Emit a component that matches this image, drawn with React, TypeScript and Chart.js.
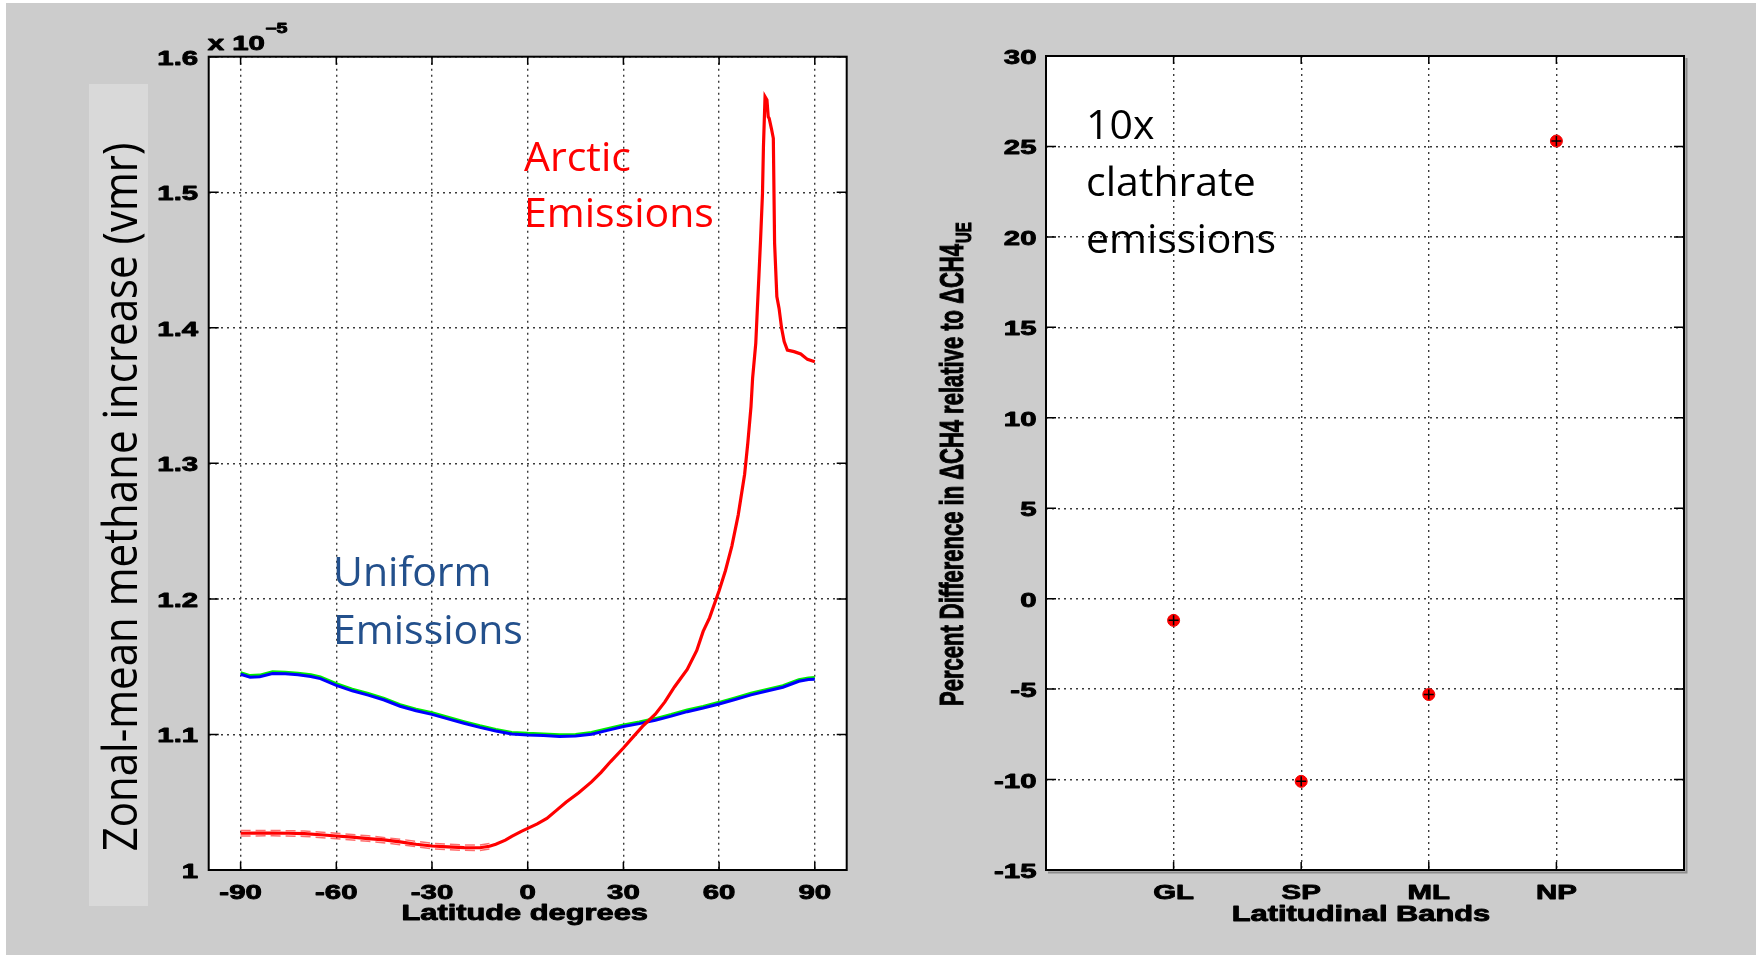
import React, { useEffect, useRef } from "react";
import { Chart, registerables } from "chart.js";

Chart.register(...registerables);

// ---------- Left panel: zonal-mean methane increase (units of 1e-5 vmr) ----------
const latitudeTicks = [-90, -60, -30, 0, 30, 60, 90];
const latitudeTickLabels = ["-90", "-60", "-30", "0", "30", "60", "90"];
const methaneTicks = [1.0, 1.1, 1.2, 1.3, 1.4, 1.5, 1.6];
const methaneTickLabels = ["1", "1.1", "1.2", "1.3", "1.4", "1.5", "1.6"];

const uniformLat = [-90, -87, -84, -80, -76, -72, -68, -65, -60, -55, -50, -45, -40, -35, -30, -25, -20, -15, -10, -5, 0, 5, 10, 15, 20, 25, 30, 35, 40, 45, 50, 55, 60, 65, 70, 75, 80, 85, 88, 90];
const uniformBlue = [1.1444, 1.1422, 1.1426, 1.145, 1.1447, 1.144, 1.1428, 1.1412, 1.1362, 1.1322, 1.129, 1.1254, 1.1208, 1.1175, 1.1148, 1.1115, 1.1083, 1.1052, 1.1025, 1.1003, 1.0996, 1.0992, 1.0985, 1.0988, 1.1002, 1.103, 1.1058, 1.108, 1.1105, 1.1135, 1.1168, 1.1195, 1.1225, 1.1258, 1.1292, 1.132, 1.1348, 1.1392, 1.1405, 1.1408];
const uniformGreen = [1.1456, 1.1434, 1.1438, 1.1463, 1.1459, 1.1452, 1.144, 1.1424, 1.1374, 1.1334, 1.1302, 1.1266, 1.122, 1.1187, 1.116, 1.1127, 1.1095, 1.1064, 1.1037, 1.1015, 1.1008, 1.1004, 1.0997, 1.1, 1.1014, 1.1042, 1.107, 1.1092, 1.1117, 1.1147, 1.118, 1.1207, 1.1237, 1.127, 1.1304, 1.1332, 1.136, 1.1404, 1.1417, 1.142];

const arcticLat = [-90, -85, -80, -75, -70, -65, -60, -55, -50, -45, -40, -35, -30, -25, -20, -15, -12, -10, -7, -5, -2, 0, 3, 6, 9, 12, 16, 20, 23, 26, 30, 33, 36, 40, 43, 46, 50, 53, 55, 57, 60, 62, 64, 66, 68, 69, 70, 70.5, 71.5, 72, 72.5, 73, 73.6, 73.9, 74.4, 75.0, 75.4, 75.7, 76.4, 77.0, 77.4, 78.1, 78.8, 79.6, 80.4, 81.4, 83.5, 85.6, 87.7, 90];
const arcticValues = [1.0271, 1.0272, 1.0272, 1.0271, 1.0268, 1.026, 1.0251, 1.0242, 1.0232, 1.0222, 1.0207, 1.019, 1.0177, 1.017, 1.0165, 1.0164, 1.0175, 1.019, 1.022, 1.0248, 1.0285, 1.0307, 1.034, 1.038, 1.044, 1.05, 1.057, 1.065, 1.072, 1.08, 1.09, 1.098, 1.106, 1.115, 1.124, 1.135, 1.148, 1.162, 1.176, 1.186, 1.206, 1.221, 1.239, 1.262, 1.292, 1.315, 1.3418, 1.3627, 1.3886, 1.4144, 1.439, 1.465, 1.499, 1.5336, 1.5705, 1.568, 1.5557, 1.5545, 1.547, 1.5398, 1.4623, 1.423, 1.4143, 1.3996, 1.3898, 1.3836, 1.3824, 1.3807, 1.3767, 1.375];

const arcticBandLat = [-90, -80, -70, -60, -50, -40, -30, -25, -20, -15, -12];
const arcticBandUpper = [1.0291, 1.0292, 1.0288, 1.0271, 1.0252, 1.0227, 1.0197, 1.019, 1.0185, 1.0184, 1.0195];
const arcticBandLower = [1.0251, 1.0252, 1.0248, 1.0231, 1.0212, 1.0187, 1.0157, 1.015, 1.0145, 1.0144, 1.0155];

// ---------- Right panel: percent difference per latitudinal band ----------
const bandLabels = ["GL", "SP", "ML", "NP"];
const bandPositions = [1, 2, 3, 4];
const percentDifference = [-1.2, -10.1, -5.3, 25.3];
const percentTicks = [-15, -10, -5, 0, 5, 10, 15, 20, 25, 30];

const SX = 1.4;
const BOLD_FAMILY = '"Liberation Sans", Arial, Helvetica, sans-serif';
const TEXT_FAMILY = '"Open Sans", "Noto Sans", sans-serif';

function stretchedText(
  ctx: CanvasRenderingContext2D,
  text: string,
  x: number,
  y: number,
  size: number,
  align: CanvasTextAlign,
  sx = SX,
  color = "#000",
) {
  ctx.save();
  ctx.font = `bold ${size}px ${BOLD_FAMILY}`;
  ctx.fillStyle = color;
  ctx.strokeStyle = color;
  ctx.lineWidth = 0.9;
  ctx.lineJoin = "round";
  ctx.textAlign = align;
  ctx.textBaseline = "alphabetic";
  ctx.translate(x, y);
  ctx.scale(sx, 1);
  ctx.fillText(text, 0, 0);
  ctx.strokeText(text, 0, 0);
  ctx.restore();
}

function plainText(ctx: CanvasRenderingContext2D, text: string, x: number, y: number, size: number, color: string) {
  ctx.save();
  ctx.font = `${size}px ${TEXT_FAMILY}`;
  ctx.fillStyle = color;
  ctx.textAlign = "left";
  ctx.textBaseline = "alphabetic";
  ctx.fillText(text, x, y);
  ctx.restore();
}

function drawFrame(chart: any, xTicks: number[], yTicks: number[], shadow: boolean) {
  const { ctx, chartArea: a, scales } = chart;
  ctx.save();
  ctx.strokeStyle = "#000";
  ctx.lineWidth = 1.5;
  ctx.beginPath();
  xTicks.forEach((v) => {
    const px = scales.x.getPixelForValue(v);
    ctx.moveTo(px, a.bottom);
    ctx.lineTo(px, a.bottom - 8);
    ctx.moveTo(px, a.top);
    ctx.lineTo(px, a.top + 8);
  });
  yTicks.forEach((v) => {
    const py = scales.y.getPixelForValue(v);
    ctx.moveTo(a.left, py);
    ctx.lineTo(a.left + 10, py);
    ctx.moveTo(a.right, py);
    ctx.lineTo(a.right - 10, py);
  });
  ctx.stroke();
  if (shadow) {
    ctx.strokeStyle = "#8c8c8c";
    ctx.lineWidth = 2;
    ctx.beginPath();
    ctx.moveTo(a.right + 2.5, a.top + 2);
    ctx.lineTo(a.right + 2.5, a.bottom + 2.5);
    ctx.lineTo(a.left + 2, a.bottom + 2.5);
    ctx.stroke();
  }
  ctx.strokeStyle = "#000";
  ctx.lineWidth = 2;
  ctx.strokeRect(a.left, a.top, a.right - a.left, a.bottom - a.top);
  ctx.restore();
}

const whiteArea = {
  id: "whiteArea",
  beforeDraw(chart: any) {
    const { ctx, chartArea: a } = chart;
    ctx.save();
    ctx.fillStyle = "#ffffff";
    ctx.fillRect(a.left, a.top, a.right - a.left, a.bottom - a.top);
    ctx.restore();
  },
};

const leftDecor = {
  id: "leftDecor",
  beforeDraw(chart: any) {
    const { ctx } = chart;
    ctx.save();
    ctx.fillStyle = "#d9d9d9";
    ctx.fillRect(89, 84, 59, 822);
    ctx.restore();
  },
  afterDraw(chart: any) {
    const { ctx, chartArea: a, scales } = chart;
    drawFrame(chart, latitudeTicks, methaneTicks, false);
    latitudeTicks.forEach((v, i) => {
      stretchedText(ctx, latitudeTickLabels[i], scales.x.getPixelForValue(v), 899, 21, "center");
    });
    methaneTicks.forEach((v, i) => {
      stretchedText(ctx, methaneTickLabels[i], a.left - 10.5, scales.y.getPixelForValue(v) + 8, 21, "right");
    });
    stretchedText(ctx, "Latitude degrees", (a.left + a.right) / 2 - 3, 920, 22, "center");
    stretchedText(ctx, "x 10", a.left - 1, 50, 21, "left");
    stretchedText(ctx, "\u20135", a.left + 57, 33, 14, "left");

    // rotated y title
    ctx.save();
    ctx.font = `42px ${TEXT_FAMILY}`;
    ctx.fillStyle = "#000";
    ctx.textAlign = "center";
    ctx.textBaseline = "alphabetic";
    ctx.translate(137, 497);
    ctx.rotate(-Math.PI / 2);
    ctx.scale(1, 1.12);
    ctx.fillText("Zonal-mean methane increase (vmr)", 0, 0);
    ctx.restore();

    plainText(ctx, "Arctic", 524, 171, 41, "#ff0000");
    plainText(ctx, "Emissions", 524, 227, 41, "#ff0000");
    plainText(ctx, "Uniform", 333, 586, 41, "#23508c");
    plainText(ctx, "Emissions", 333, 644, 41, "#23508c");
  },
};

const rightDecor = {
  id: "rightDecor",
  afterDraw(chart: any) {
    const { ctx, chartArea: a, scales } = chart;
    drawFrame(chart, bandPositions, percentTicks, true);
    bandPositions.forEach((v, i) => {
      stretchedText(ctx, bandLabels[i], scales.x.getPixelForValue(v), 899, 21, "center");
    });
    percentTicks.forEach((v) => {
      stretchedText(ctx, String(v), a.left - 9.5, scales.y.getPixelForValue(v) + 8, 21, "right");
    });
    stretchedText(ctx, "Latitudinal Bands", (a.left + a.right) / 2 - 4, 921, 22, "center");

    // rotated y title with subscript
    ctx.save();
    ctx.fillStyle = "#000";
    ctx.strokeStyle = "#000";
    ctx.lineWidth = 0.7;
    ctx.textAlign = "left";
    ctx.textBaseline = "alphabetic";
    ctx.translate(83, 706);
    ctx.rotate(-Math.PI / 2);
    ctx.scale(1, 1.5);
    ctx.font = `bold 22px ${BOLD_FAMILY}`;
    const main = "Percent Difference in \u0394CH4 relative to \u0394CH4";
    ctx.fillText(main, 0, 0);
    ctx.strokeText(main, 0, 0);
    const w = ctx.measureText(main).width;
    ctx.font = `bold 15px ${BOLD_FAMILY}`;
    ctx.fillText("UE", w + 1, 5);
    ctx.strokeText("UE", w + 1, 5);
    ctx.restore();

    plainText(ctx, "10x", 206, 139, 41, "#000");
    plainText(ctx, "clathrate", 206, 196, 41, "#000");
    plainText(ctx, "emissions", 206, 253, 41, "#000");
  },
};

const gridStyle = { color: "#3a3a3a", lineWidth: 1.4, drawTicks: false };
const borderStyle = { display: false, dash: [2, 4] };

export default function App() {
  const leftRef = useRef<HTMLCanvasElement>(null);
  const rightRef = useRef<HTMLCanvasElement>(null);

  useEffect(() => {
    const left = new Chart(leftRef.current as HTMLCanvasElement, {
      type: "line",
      data: {
        datasets: [
          {
            data: arcticLat.map((x, i) => ({ x, y: arcticValues[i] })),
            borderColor: "#ff0000",
            borderWidth: 3.2,
            pointRadius: 0,
          },
          {
            data: uniformLat.map((x, i) => ({ x, y: uniformBlue[i] })),
            borderColor: "#0000ff",
            borderWidth: 3,
            pointRadius: 0,
          },
          {
            data: uniformLat.map((x, i) => ({ x, y: uniformGreen[i] })),
            borderColor: "#00ee00",
            borderWidth: 3,
            pointRadius: 0,
          },
          {
            data: arcticBandLat.map((x, i) => ({ x, y: arcticBandUpper[i] })),
            borderColor: "rgba(255,60,60,0.75)",
            borderWidth: 1.5,
            borderDash: [10, 5],
            pointRadius: 0,
          },
          {
            data: arcticBandLat.map((x, i) => ({ x, y: arcticBandLower[i] })),
            borderColor: "rgba(255,60,60,0.75)",
            borderWidth: 1.5,
            borderDash: [10, 5],
            pointRadius: 0,
          },
        ],
      },
      options: {
        responsive: false,
        animation: false,
        layout: { padding: { left: 0, top: 56.7, right: 33.3, bottom: 0 } },
        plugins: { legend: { display: false }, tooltip: { enabled: false } },
        scales: {
          x: {
            type: "linear",
            min: -100,
            max: 100,
            afterBuildTicks: (s: any) => {
              s.ticks = latitudeTicks.map((v) => ({ value: v }));
            },
            afterFit: (s: any) => {
              s.height = 85;
            },
            ticks: { display: false },
            grid: gridStyle,
            border: borderStyle,
          },
          y: {
            type: "linear",
            min: 1.0,
            max: 1.6,
            afterBuildTicks: (s: any) => {
              s.ticks = methaneTicks.map((v) => ({ value: v }));
            },
            afterFit: (s: any) => {
              s.width = 208.7;
            },
            ticks: { display: false },
            grid: gridStyle,
            border: borderStyle,
          },
        },
      },
      plugins: [whiteArea, leftDecor],
    } as any);

    const right = new Chart(rightRef.current as HTMLCanvasElement, {
      type: "scatter",
      data: {
        datasets: [
          {
            data: bandPositions.map((x, i) => ({ x, y: percentDifference[i] })),
            pointStyle: "cross",
            pointRadius: 5,
            borderColor: "#000",
            borderWidth: 1.5,
          },
          {
            data: bandPositions.map((x, i) => ({ x, y: percentDifference[i] })),
            pointStyle: "circle",
            pointRadius: 6,
            backgroundColor: "#ff0000",
            borderColor: "#ee0000",
            borderWidth: 1,
          },
        ],
      },
      options: {
        responsive: false,
        animation: false,
        layout: { padding: { left: 0, top: 56, right: 72, bottom: 0 } },
        plugins: { legend: { display: false }, tooltip: { enabled: false } },
        scales: {
          x: {
            type: "linear",
            min: 0,
            max: 5,
            afterBuildTicks: (s: any) => {
              s.ticks = bandPositions.map((v) => ({ value: v }));
            },
            afterFit: (s: any) => {
              s.height = 85;
            },
            ticks: { display: false },
            grid: gridStyle,
            border: borderStyle,
          },
          y: {
            type: "linear",
            min: -15,
            max: 30,
            afterBuildTicks: (s: any) => {
              s.ticks = percentTicks.map((v) => ({ value: v }));
            },
            afterFit: (s: any) => {
              s.width = 166;
            },
            ticks: { display: false },
            grid: gridStyle,
            border: borderStyle,
          },
        },
      },
      plugins: [whiteArea, rightDecor],
    } as any);

    return () => {
      left.destroy();
      right.destroy();
    };
  }, []);

  return (
    <div style={{ position: "fixed", left: 0, top: 0, width: 1756, height: 955, background: "#ffffff", overflow: "hidden" }}>
      <div style={{ position: "absolute", left: 6, top: 3, right: 0, bottom: 0, background: "#cccccc" }} />
      <canvas ref={leftRef} width={880} height={955} style={{ position: "absolute", left: 0, top: 0 }} />
      <canvas ref={rightRef} width={876} height={955} style={{ position: "absolute", left: 880, top: 0 }} />
    </div>
  );
}
